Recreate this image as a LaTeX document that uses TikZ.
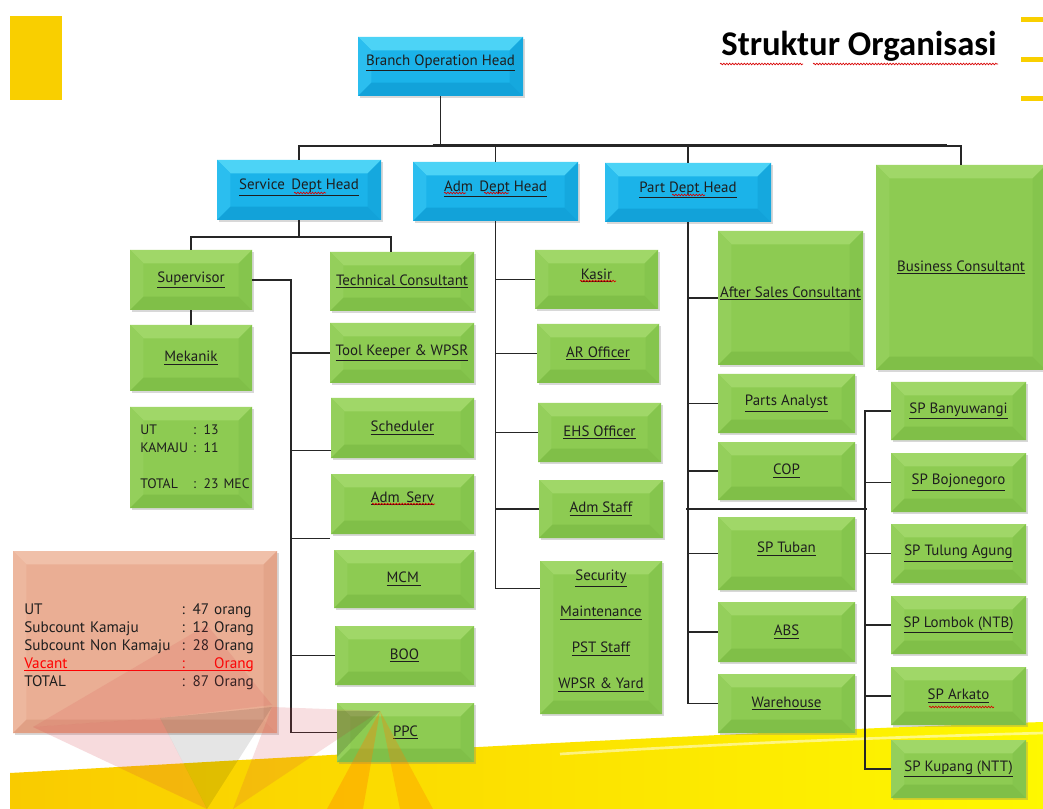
\documentclass[tikz,border=0pt]{standalone}
\usepackage{fontspec}
\setmainfont{PT Sans}
\newfontfamily\titlefont{Carlito}
\usetikzlibrary{shadows,calc,decorations.pathmorphing}

\definecolor{gmid}{HTML}{8DCB52}
\definecolor{gtop}{HTML}{A0D768}
\definecolor{gleft}{HTML}{94CF5B}
\definecolor{gright}{HTML}{85C54D}
\definecolor{gbot}{HTML}{80BF48}
\definecolor{bmid}{HTML}{1BB3E9}
\definecolor{btop}{HTML}{4CD3F6}
\definecolor{bleft}{HTML}{2BBEEF}
\definecolor{bright}{HTML}{15A8DE}
\definecolor{bbot}{HTML}{12A2D9}
\definecolor{smid}{HTML}{EAAE94}
\definecolor{stop}{HTML}{F0C0A9}
\definecolor{sleft}{HTML}{EDB79E}
\definecolor{sright}{HTML}{E3A489}
\definecolor{sbot}{HTML}{E0A085}
\definecolor{linec}{HTML}{262626}
\definecolor{txt}{HTML}{1E1E1E}
\definecolor{gold}{HTML}{F9CF00}
\definecolor{logored}{HTML}{D63C46}

\def\bvw{10pt}
\newcommand\ulx[1]{\underline{#1}}
% box given by its corners in pixel units
\newcommand\obox[7][]{%
  \node[#1, minimum width={(#5-#3)*0.75pt}, minimum height={(#6-#4)*0.75pt}]
    (#2) at ({(#3+#5)/2},{(#4+#6)/2}) {#7};}

\tikzset{
  bevel/.style={inner sep=0pt, align=center, text=txt,
    font=\fontsize{11.2}{13}\selectfont,
    drop shadow={opacity=0.3, shadow xshift=1.2pt, shadow yshift=-1.4pt},
    path picture={
      \fill[bevtop] (path picture bounding box.north west) -- (path picture bounding box.north east)
        -- ([shift={(-\bvw,-\bvw)}]path picture bounding box.north east)
        -- ([shift={(\bvw,-\bvw)}]path picture bounding box.north west) -- cycle;
      \fill[bevleft] (path picture bounding box.north west) -- ([shift={(\bvw,-\bvw)}]path picture bounding box.north west)
        -- ([shift={(\bvw,\bvw)}]path picture bounding box.south west)
        -- (path picture bounding box.south west) -- cycle;
      \fill[bevbot] (path picture bounding box.south west) -- ([shift={(\bvw,\bvw)}]path picture bounding box.south west)
        -- ([shift={(-\bvw,\bvw)}]path picture bounding box.south east)
        -- (path picture bounding box.south east) -- cycle;
      \fill[bevright] (path picture bounding box.north east) -- ([shift={(-\bvw,-\bvw)}]path picture bounding box.north east)
        -- ([shift={(-\bvw,\bvw)}]path picture bounding box.south east)
        -- (path picture bounding box.south east) -- cycle;
    }},
  gbox/.style={bevel, fill=gmid,
    /utils/exec={\colorlet{bevtop}{gtop}\colorlet{bevleft}{gleft}\colorlet{bevright}{gright}\colorlet{bevbot}{gbot}}},
  bbox/.style={bevel, fill=bmid,
    /utils/exec={\colorlet{bevtop}{btop}\colorlet{bevleft}{bleft}\colorlet{bevright}{bright}\colorlet{bevbot}{bbot}}},
  sbox/.style={bevel, fill=smid,
    /utils/exec={\colorlet{bevtop}{stop}\colorlet{bevleft}{sleft}\colorlet{bevright}{sright}\colorlet{bevbot}{sbot}}},
  conn/.style={draw=linec, line width=0.9pt},
  busthick/.style={draw=linec, line width=2pt},
  squiggle/.style={draw=red!85!black, line width=0.5pt,
    decorate, decoration={snake, amplitude=0.6pt, segment length=2.2pt}},
}

\begin{document}
\begin{tikzpicture}[x=0.75pt, y={(0,-0.75pt)}]
\clip (0,0) rectangle (1043,809);
\fill[white] (0,0) rectangle (1043,809);

% yellow swoosh along the bottom
\shade[left color=gold!95!orange, right color=yellow!85!gold]
  (10,809) -- (10,773) .. controls (250,760) and (650,735) .. (1043,722) -- (1043,809) -- cycle;
\draw[white, opacity=0.5, line width=2pt]
  (560,754) .. controls (750,742) and (900,737) .. (1043,733);

% decorative blocks
\fill[gold] (10,16) rectangle (62,100);
\fill[gold] (1021,17) rectangle (1043,22);
\fill[gold] (1021,57) rectangle (1043,62);
\fill[gold] (1021,96) rectangle (1043,101);

% title
\node[anchor=base, text=black] (title) at (859,56)
  {\titlefont\bfseries\fontsize{26}{29}\selectfont Struktur Organisasi};
\draw[squiggle] (720,64) -- (803,64);
\draw[squiggle] (813,64) -- (998,64);

% head boxes
\obox[bbox]{boh}{358}{37}{523}{96}{\raisebox{9.5pt}{\ulx{Branch Operation Head}}}
\obox[bbox]{sdh}{217}{160}{381}{220}{\raisebox{8pt}{\ulx{Service\, Dept Head}}}
\obox[bbox]{adh}{413}{162}{578}{221}{\raisebox{8pt}{\ulx{Adm\, Dept Head}}}
\obox[bbox]{pdh}{605}{163}{771}{222}{\raisebox{8pt}{\ulx{Part Dept Head}}}
\obox[gbox]{bc}{876}{165}{1046}{370}{\ulx{Business Consultant}}

% service department
\obox[gbox]{sup}{130}{250}{252}{310}{\ulx{Supervisor}}
\obox[gbox]{mek}{130}{325}{252}{391}{\ulx{Mekanik}}
\obox[gbox, text width=76pt, align=left]{stat}{130}{407}{252}{508}{%
  {\fontsize{10.3}{13.5}\selectfont\begin{tabular}{@{}l@{ }l@{}}
   UT & : 13\\ KAMAJU & : 11\\ & \\ TOTAL & : 23 MEC\end{tabular}}}
\obox[gbox]{tc}{330}{252}{474}{311}{\ulx{Technical Consultant}}
\obox[gbox]{tk}{330}{323}{474}{383}{\ulx{Tool Keeper \& WPSR}}
\obox[gbox]{sch}{331}{398}{474}{458}{\ulx{Scheduler}}
\obox[gbox]{as}{331}{474}{474}{534}{\raisebox{10pt}{\ulx{Adm\, Serv}}}
\obox[gbox]{mcm}{334}{550}{474}{608}{\ulx{MCM\,}}
\obox[gbox]{boo}{335}{626}{474}{685}{\ulx{BOO}}
\obox[gbox]{ppc}{337}{703}{474}{762}{\ulx{PPC}}

% administration department
\obox[gbox]{kas}{535}{250}{658}{309}{\raisebox{8.5pt}{\ulx{Kasir}}}
\obox[gbox]{aro}{537}{324}{659}{383}{\ulx{AR Officer}}
\obox[gbox]{ehs}{538}{403}{661}{462}{\ulx{EHS Officer}}
\obox[gbox]{ast}{539}{480}{663}{538}{\ulx{Adm Staff}}
\obox[gbox]{sec}{540}{561}{662}{714}{\raisebox{4.5pt}[\height][\depth]{\begin{tabular}{@{}c@{}}
  \ulx{Security}\\[14pt] \ulx{Maintenance}\\[14pt] \ulx{PST Staff}\\[14pt] \ulx{WPSR \& Yard}\end{tabular}}}

% parts department
\obox[gbox]{asc}{718}{231}{863}{365}{\raisebox{9pt}{\ulx{After Sales Consultant}}}
\obox[gbox]{pa}{718}{374}{855}{433}{\ulx{Parts Analyst}}
\obox[gbox]{cop}{718}{442}{855}{500}{\ulx{COP}}
\obox[gbox]{spt}{718}{517}{855}{590}{\raisebox{9pt}{\ulx{SP Tuban}}}
\obox[gbox]{abs}{718}{602}{855}{662}{\ulx{ABS}}
\obox[gbox]{wh}{718}{674}{855}{733}{\ulx{Warehouse}}
\obox[gbox]{spb}{891}{382}{1026}{440}{\ulx{SP Banyuwangi}}
\obox[gbox]{spbo}{891}{453}{1026}{512}{\ulx{SP Bojonegoro}}
\obox[gbox]{sptu}{891}{524}{1026}{583}{\ulx{SP Tulung Agung}}
\obox[gbox]{spl}{891}{596}{1026}{654}{\ulx{SP Lombok (NTB)}}
\obox[gbox]{spa}{891}{667}{1026}{725}{\ulx{SP Arkato}}
\obox[gbox]{spk}{891}{740}{1026}{798}{\ulx{SP Kupang (NTT)}}

% head-count summary
\obox[sbox, font=\fontsize{11.4}{13.5}\selectfont, text width=181pt, align=left]{sum}{13}{551}{277}{733}{%
  \raisebox{-3.75pt}[\height][\depth]{\begin{tabular}{@{}p{118pt}@{}l@{}}
   UT & : 47 orang\\
   Subcount Kamaju & : 12 Orang\\
   Subcount Non Kamaju & : 28 Orang\\
   \textcolor{red}{Vacant} & \textcolor{red}{:}\hfill\textcolor{red}{Orang}\\
   TOTAL & : 87 Orang
  \end{tabular}}}
\draw[red, line width=0.8pt] (24,670.5) -- (250,670.5);

% connectors from the branch head
\coordinate (bus) at (0,146);
\draw[conn] (boh.south) -- (boh.south |- bus);
\draw[conn] (sdh.north) |- (bc.north |- bus) -- (bc.north);
\draw[busthick] ($(boh.south |- bus)+(-8,-1)$) -- ($(bc.north |- bus)+(-14,-1)$);
\draw[conn] (adh.north) -- (adh.north |- bus);
\draw[conn] (pdh.north) -- (pdh.north |- bus);

% service department connectors
\coordinate (sbus) at (0,237);
\draw[conn] (sdh.south) -- (sdh.south |- sbus);
\draw[conn] (sup.north) |- ($(tc.north |- sbus)+(-11,0)$) -- ($(tc.north)+(-11,0)$);
\draw[conn] (sup.south) -- (mek.north);
\coordinate (svx) at (291,0);
\coordinate (schb) at ($(sch.south west)+(0,-8)$);
\coordinate (asb) at ($(as.south west)+(-1,4)$);
\draw[conn] (sup.east) -| (svx |- ppc.west) -- (ppc.west);
\draw[conn] (svx |- tk.west) -- (tk.west);
\draw[conn] (svx |- schb) -- (schb);
\draw[conn] (svx |- asb) -- (asb);
\draw[conn] (svx |- boo.west) -- (boo.west);

% administration connectors
\coordinate (secb) at ($(sec.north west)+(0,28)$);
\draw[conn] (adh.south) |- (secb);
\draw[conn] (adh.south |- kas.west) -- (kas.west);
\draw[conn] (adh.south |- aro.west) -- (aro.west);
\draw[conn] (adh.south |- ehs.west) -- (ehs.west);
\draw[conn] (adh.south |- ast.west) -- (ast.west);

% parts connectors
\draw[conn] (pdh.south) |- (wh.west);
\draw[conn] (pdh.south |- asc.west) -- (asc.west);
\draw[conn] (pdh.south |- pa.west) -- (pa.west);
\draw[conn] (pdh.south |- cop.west) -- (cop.west);
\draw[conn] (pdh.south |- spt.west) -- (spt.west);
\draw[conn] (pdh.south |- abs.west) -- (abs.west);
\coordinate (spx) at (865,0);
\draw[conn] (spb.west) -| (spx |- spk.west) -- (spk.west);
\draw[conn] (spx |- spbo.west) -- (spbo.west);
\draw[conn] (spx |- sptu.west) -- (sptu.west);
\draw[conn] (spx |- spl.west) -- (spl.west);
\draw[conn] (spx |- spa.west) -- (spa.west);
\coordinate (plink) at (686,509);
\draw[conn] (plink) -- ($(plink -| spx)+(2,0)$);

% spelling marks
\draw[squiggle] (294,193) -- (326,193);
\draw[squiggle] (444,193) -- (466,193);
\draw[squiggle] (484,193) -- (509,193);
\draw[squiggle] (672,195) -- (705,195);
\draw[squiggle] (372,504) -- (435,504);
\draw[squiggle] (580,281) -- (616,281);
\draw[squiggle] (929,707) -- (994,707);

% translucent emblem in the lower left
\fill[logored, opacity=0.13] (33,727) -- (207,625) -- (272,705) -- (160,718) -- cycle;
\fill[logored, opacity=0.18] (33,727) -- (160,718) -- (207,809) -- cycle;
\fill[black, opacity=0.10] (160,718) -- (272,707) -- (207,809) -- cycle;
\fill[logored, opacity=0.16] (272,707) -- (380,711) -- (233,809) -- cycle;
\fill[black, opacity=0.14] (337,711) -- (380,711) -- (337,757) -- cycle;
\fill[orange, opacity=0.35] (380,711) -- (327,809) -- (363,809) -- cycle;
\fill[orange, opacity=0.30] (380,711) -- (400,809) -- (433,809) -- cycle;
\end{tikzpicture}
\end{document}
